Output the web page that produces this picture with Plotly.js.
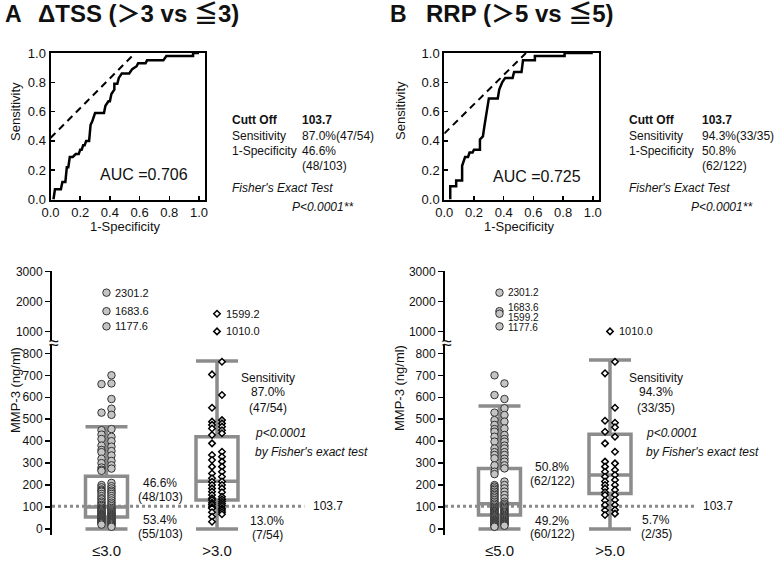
<!DOCTYPE html>
<html>
<head>
<meta charset="utf-8">
<script src="https://cdn.plot.ly/plotly-3.0.1.min.js"></script>
<style>html,body{margin:0;padding:0;background:#fff}</style>
</head>
<body>
<div id="chart" style="width:778px;height:561px"></div>
<script>
// ROC curves (1-specificity, sensitivity)
const rocA_fpr = [0.02, 0.03, 0.07, 0.08, 0.10, 0.11, 0.12, 0.13, 0.15, 0.17, 0.19, 0.20, 0.21, 0.22, 0.23, 0.24, 0.26, 0.27, 0.28, 0.30, 0.36, 0.37, 0.39, 0.40, 0.41, 0.43, 0.43, 0.45, 0.46, 0.48, 0.53, 0.55, 0.58, 0.59, 0.64, 0.65, 0.76, 0.78, 0.96, 0.96, 1.00];
const rocA_tpr = [0.00, 0.07, 0.07, 0.12, 0.12, 0.22, 0.22, 0.29, 0.29, 0.31, 0.31, 0.34, 0.34, 0.37, 0.37, 0.40, 0.40, 0.51, 0.53, 0.59, 0.59, 0.64, 0.67, 0.67, 0.72, 0.75, 0.79, 0.79, 0.83, 0.86, 0.86, 0.89, 0.91, 0.93, 0.93, 0.95, 0.95, 0.98, 0.98, 1.00, 1.00];
const rocA_tanX = [0, 0.57];
const rocA_tanY = [0.42, 1.0];
const aucA = '0.706';

const rocB_fpr = [0.04, 0.04, 0.08, 0.08, 0.12, 0.12, 0.14, 0.16, 0.17, 0.19, 0.20, 0.24, 0.24, 0.26, 0.27, 0.28, 0.29, 0.30, 0.36, 0.37, 0.39, 0.41, 0.46, 0.47, 0.52, 0.53, 0.61, 0.61, 0.81, 0.81, 1.00];
const rocB_tpr = [0.00, 0.09, 0.09, 0.13, 0.13, 0.23, 0.29, 0.29, 0.32, 0.32, 0.34, 0.34, 0.41, 0.43, 0.50, 0.57, 0.62, 0.69, 0.69, 0.75, 0.80, 0.83, 0.83, 0.87, 0.87, 0.95, 0.95, 0.98, 0.98, 1.00, 1.00];
const rocB_tanX = [0, 0.55];
const rocB_tanY = [0.45, 1.0];
const aucB = '0.725';

const cutoff = 103.7;

// box plot groups and summary values (ng/ml)
const groupsA = ['≤3.0', '>3.0'];
const boxA_low = [0, 0];
const boxA_q1 = [55, 132];
const boxA_med = [100, 218];
const boxA_q3 = [240, 420];
const boxA_high = [466, 765];

const groupsB = ['≤5.0', '>5.0'];
const boxB_low = [0, 0];
const boxB_q1 = [64, 162];
const boxB_med = [115, 246];
const boxB_q3 = [276, 431];
const boxB_high = [560, 770];

// individual values, split in the two columns of each dot strip
const A_le_left = [660, 530, 450, 430, 410, 380, 360, 350, 320, 300, 280, 270, 265, 200, 190, 180, 175, 170, 160, 150, 140, 135, 125, 118, 110, 105, 98, 92, 88, 84, 80, 76, 72, 68, 65, 62, 60, 57, 54, 51, 48, 45, 42, 40, 37, 34, 31, 28, 25, 20];
const A_le_right = [700, 663, 592, 548, 520, 455, 420, 400, 375, 355, 335, 310, 290, 275, 210, 195, 185, 175, 168, 160, 150, 140, 130, 120, 112, 104, 96, 90, 85, 80, 76, 72, 68, 64, 60, 57, 54, 51, 48, 45, 42, 39, 36, 33, 30, 27, 24, 20, 15, 10];
const A_gt_left = [704, 552, 489, 474, 458, 428, 390, 337, 314, 284, 253, 231, 215, 200, 185, 170, 155, 140, 132, 120, 112, 100, 94, 76, 56, 33];
const A_gt_right = [762, 610, 496, 481, 466, 450, 436, 352, 329, 307, 284, 261, 238, 216, 200, 185, 167, 147, 135, 124, 115, 106, 95, 87, 77, 67];
const A_le_out = [2301.2, 1683.6, 1177.6];
const A_gt_out = [1599.2, 1010.0];

const B_le_left = [700, 610, 530, 496, 474, 455, 443, 420, 398, 367, 350, 337, 322, 290, 261, 250, 200, 193, 185, 178, 170, 162, 155, 148, 140, 132, 124, 116, 109, 102, 96, 94, 90, 86, 82, 79, 75, 71, 68, 64, 60, 56, 53, 49, 45, 41, 38, 35, 33, 30, 28, 26, 24, 22, 20, 18, 15, 12, 10];
const B_le_right = [663, 592, 550, 519, 489, 458, 428, 410, 398, 380, 367, 350, 337, 320, 307, 290, 276, 216, 200, 185, 170, 155, 140, 124, 115, 108, 102, 96, 90, 85, 79, 75, 70, 64, 60, 56, 52, 49, 45, 41, 37, 33, 30, 27, 24, 21, 18, 15];
const B_gt_left = [709, 493, 443, 390, 307, 284, 261, 238, 216, 200, 185, 167, 155, 130, 109, 85, 64];
const B_gt_right = [762, 552, 484, 463, 420, 352, 299, 269, 246, 223, 200, 178, 155, 132, 109, 87, 70];
const B_le_out = [2301.2, 1683.6, 1599.2, 1177.6];
const B_gt_out = [1010.0];

const FONT = 'Liberation Sans, Arial, Noto Sans CJK JP, sans-serif';
const W = 778, H = 561;
const px = p => p / W;
const py = p => 1 - p / H;

// pixel -> paper text helper
function txt(x, y, text, size, anchor, extra) {
    return Object.assign({
        xref: 'paper', yref: 'paper', x: px(x), y: py(y), text: text,
        showarrow: false, xanchor: anchor || 'left', yanchor: 'middle',
        font: {family: FONT, size: size || 12, color: '#111'}
    }, extra || {});
}

function rocX(left, anchor) {
    return {
        domain: [px(left), px(left + 148.5 * 1.04)], range: [0, 1.04], anchor: anchor,
        showline: true, mirror: true, linewidth: 2, linecolor: '#000',
        ticks: 'inside', ticklen: 4, tickwidth: 1.5, tickcolor: '#000',
        tickvals: [0, 0.2, 0.4, 0.6, 0.8, 1.0], tickformat: '.1f',
        showgrid: false, zeroline: false, fixedrange: true,
        tickfont: {family: FONT, size: 13, color: '#111'}
    };
}
function rocY(anchor) {
    return {
        domain: [py(199.5), py(53)], range: [0, 1.0], anchor: anchor,
        showline: true, mirror: true, linewidth: 2, linecolor: '#000',
        ticks: 'inside', ticklen: 4, tickwidth: 1.5, tickcolor: '#000',
        tickvals: [0, 0.2, 0.4, 0.6, 0.8, 1.0], tickformat: '.1f',
        showgrid: false, zeroline: false, fixedrange: true,
        tickfont: {family: FONT, size: 13, color: '#111'}
    };
}
function boxX(left, anchor, groups) {
    return {
        domain: [px(left), px(left + 308)], range: [-0.493, 2.294], anchor: anchor,
        showline: false, ticks: '', tickvals: [0, 1], ticktext: groups,
        ticklabelstandoff: 5,
        showgrid: false, zeroline: false, fixedrange: true,
        tickfont: {family: FONT, size: 15, color: '#111'}
    };
}
function lowY(anchor) {
    return {
        domain: [py(535), py(345)], range: [-27.3, 838], anchor: anchor,
        showline: true, linewidth: 2, linecolor: '#000',
        ticks: 'outside', ticklen: 5, tickwidth: 1.5, tickcolor: '#000',
        tickvals: [0, 100, 200, 300, 400, 500, 600, 700, 800],
        showgrid: false, zeroline: false, fixedrange: true,
        tickfont: {family: FONT, size: 12, color: '#111'}
    };
}
function highY(anchor) {
    return {
        domain: [py(341), py(271)], range: [690, 3023], anchor: anchor,
        showline: true, linewidth: 2, linecolor: '#000',
        ticks: 'outside', ticklen: 5, tickwidth: 1.5, tickcolor: '#000',
        tickvals: [1000, 2000, 3000],
        showgrid: false, zeroline: false, fixedrange: true,
        tickfont: {family: FONT, size: 12, color: '#111'}
    };
}

const circle = {symbol: 'circle', size: 7.5, color: '#c4c4c4', line: {color: '#333', width: 1}};
const diamond = {symbol: 'diamond', size: 5, color: '#fff', line: {color: '#000', width: 1.5}};

function strip(vals, xpos, marker, xa, ya) {
    return {type: 'scatter', mode: 'markers', x: vals.map(() => xpos), y: vals,
        marker: marker, xaxis: xa, yaxis: ya, hoverinfo: 'skip', cliponaxis: false};
}

function boxTrace(low, q1, med, q3, high, xa, ya) {
    return {type: 'box', x: [0, 1], lowerfence: low, q1: q1, median: med, q3: q3, upperfence: high,
        width: 0.38, whiskerwidth: 1, boxpoints: false,
        line: {color: '#8c8c8c', width: 3.5}, fillcolor: 'rgba(0,0,0,0)',
        xaxis: xa, yaxis: ya, hoverinfo: 'skip'};
}

// labels next to the points above the axis break; close values are spread apart
function outLabels(vals, xpos, xa, ya) {
    const sorted = vals.slice().sort((a, b) => b - a);
    const crowded = sorted.some((v, i) => i > 0 && sorted[i - 1] - v < 200);
    return sorted.map((v, i) => {
        let shift = 0;
        if (i > 0 && sorted[i - 1] - v < 200) shift = -4;
        else if (i < sorted.length - 1 && v - sorted[i + 1] < 200) shift = 4;
        else if (crowded && i > 0) shift = -1;
        return {xref: xa, yref: ya, x: xpos, y: v, text: v.toFixed(1), showarrow: false,
            xanchor: 'left', yanchor: 'middle', xshift: 7, yshift: shift,
            font: {family: FONT, size: crowded ? 10 : 11, color: '#111'}};
    });
}

const traces = [
    {x: rocA_fpr, y: rocA_tpr, mode: 'lines', line: {color: '#000', width: 2.5}, xaxis: 'x', yaxis: 'y'},
    {x: rocA_tanX, y: rocA_tanY, mode: 'lines', line: {color: '#000', width: 2, dash: '7px,5px'}, xaxis: 'x', yaxis: 'y'},
    {x: rocB_fpr, y: rocB_tpr, mode: 'lines', line: {color: '#000', width: 2.5}, xaxis: 'x2', yaxis: 'y2'},
    {x: rocB_tanX, y: rocB_tanY, mode: 'lines', line: {color: '#000', width: 2, dash: '7px,5px'}, xaxis: 'x2', yaxis: 'y2'},

    boxTrace(boxA_low, boxA_q1, boxA_med, boxA_q3, boxA_high, 'x3', 'y3'),
    strip(A_le_left, -0.045, circle, 'x3', 'y3'),
    strip(A_le_right, 0.045, circle, 'x3', 'y3'),
    strip(A_gt_left, 0.955, diamond, 'x3', 'y3'),
    strip(A_gt_right, 1.045, diamond, 'x3', 'y3'),
    strip(A_le_out, 0, circle, 'x3', 'y4'),
    strip(A_gt_out, 1, diamond, 'x3', 'y4'),

    boxTrace(boxB_low, boxB_q1, boxB_med, boxB_q3, boxB_high, 'x4', 'y5'),
    strip(B_le_left, -0.045, circle, 'x4', 'y5'),
    strip(B_le_right, 0.045, circle, 'x4', 'y5'),
    strip(B_gt_left, 0.955, diamond, 'x4', 'y5'),
    strip(B_gt_right, 1.045, diamond, 'x4', 'y5'),
    strip(B_le_out, 0, circle, 'x4', 'y6'),
    strip(B_gt_out, 1, diamond, 'x4', 'y6')
];

const shapes = [
    {type: 'line', xref: 'x3', yref: 'y3', x0: -0.493, x1: 1.79, y0: cutoff, y1: cutoff,
        line: {color: '#8a8a8a', width: 3, dash: 'dot'}, layer: 'below'},
    {type: 'line', xref: 'x4', yref: 'y5', x0: -0.493, x1: 1.76, y0: cutoff, y1: cutoff,
        line: {color: '#8a8a8a', width: 3, dash: 'dot'}, layer: 'below'}
];

const rot = {textangle: -90, xanchor: 'center'};
const annotations = [
    // panel A
    txt(3, 14, '<b>A</b>', 23),
    txt(36, 14, '<b>ΔTSS (＞3 vs ≦3)</b>', 24),
    txt(15, 112, 'Sensitivity', 13, 'center', rot),
    txt(125, 226, '1-Specificity', 13, 'center'),
    txt(144, 174, 'AUC =' + aucA, 16, 'center'),
    txt(230, 120, '<b>Cutt Off</b>'),
    txt(300, 120, '<b>' + cutoff.toFixed(1) + '</b>'),
    txt(230, 136, 'Sensitivity'),
    txt(300, 136, '87.0%(47/54)'),
    txt(230, 151, '1-Specificity'),
    txt(300, 151, '46.6%'),
    txt(300, 166, '(48/103)'),
    txt(230, 188, "<i>Fisher's Exact Test</i>"),
    txt(290, 207, '<i>P&lt;0.0001**</i>'),

    txt(15, 390, 'MMP-3 (ng/ml)', 13, 'center', rot),
    txt(54, 343, '≈', 18, 'center'),
    txt(160, 483, '46.6%', 12, 'center'),
    txt(160, 497, '(48/103)', 12, 'center'),
    txt(160, 520, '53.4%', 12, 'center'),
    txt(160, 534, '(55/103)', 12, 'center'),
    txt(268, 378, 'Sensitivity', 12, 'center'),
    txt(268, 392, '87.0%', 12, 'center'),
    txt(268, 408, '(47/54)', 12, 'center'),
    txt(253, 433, '<i>p&lt;0.0001</i>'),
    txt(253, 452, "<i>by Fisher's exact test</i>"),
    txt(267, 521, '13.0%', 12, 'center'),
    txt(267, 535, '(7/54)', 12, 'center'),
    {xref: 'x3', yref: 'y3', x: 1.79, y: cutoff, text: cutoff.toFixed(1), showarrow: false,
        xanchor: 'left', yanchor: 'middle', xshift: 7, font: {family: FONT, size: 12, color: '#111'}},

    // panel B
    txt(388, 14, '<b>B</b>', 23),
    txt(424, 14, '<b>RRP (＞5 vs ≦5)</b>', 24),
    txt(400, 111, 'Sensitivity', 13, 'center', rot),
    txt(519, 226, '1-Specificity', 13, 'center'),
    txt(537, 176, 'AUC =' + aucB, 16, 'center'),
    txt(627, 120, '<b>Cutt Off</b>'),
    txt(700, 120, '<b>' + cutoff.toFixed(1) + '</b>'),
    txt(627, 136, 'Sensitivity'),
    txt(700, 136, '94.3%(33/35)'),
    txt(627, 151, '1-Specificity'),
    txt(700, 151, '50.8%'),
    txt(700, 166, '(62/122)'),
    txt(627, 188, "<i>Fisher's Exact Test</i>"),
    txt(689, 207, '<i>P&lt;0.0001**</i>'),

    txt(399, 388, 'MMP-3 (ng/ml)', 13, 'center', rot),
    txt(447, 343, '≈', 18, 'center'),
    txt(552, 467, '50.8%', 12, 'center'),
    txt(552, 481, '(62/122)', 12, 'center'),
    txt(552, 521, '49.2%', 12, 'center'),
    txt(552, 534, '(60/122)', 12, 'center'),
    txt(656, 378, 'Sensitivity', 12, 'center'),
    txt(656, 392, '94.3%', 12, 'center'),
    txt(656, 408, '(33/35)', 12, 'center'),
    txt(644, 433, '<i>p&lt;0.0001</i>'),
    txt(644, 452, "<i>by Fisher's exact test</i>"),
    txt(656, 520, '5.7%', 12, 'center'),
    txt(656, 534, '(2/35)', 12, 'center'),
    {xref: 'x4', yref: 'y5', x: 1.76, y: cutoff, text: cutoff.toFixed(1), showarrow: false,
        xanchor: 'left', yanchor: 'middle', xshift: 7, font: {family: FONT, size: 12, color: '#111'}}
].concat(
    outLabels(A_le_out, 0, 'x3', 'y4'),
    outLabels(A_gt_out, 1, 'x3', 'y4'),
    outLabels(B_le_out, 0, 'x4', 'y6'),
    outLabels(B_gt_out, 1, 'x4', 'y6')
);

const layout = {
    width: W, height: H, margin: {l: 0, r: 0, t: 0, b: 0},
    paper_bgcolor: '#fff', plot_bgcolor: 'rgba(0,0,0,0)',
    showlegend: false, hovermode: false,
    font: {family: FONT, size: 12, color: '#111'},
    xaxis: rocX(50.5, 'y'), yaxis: rocY('x'),
    xaxis2: rocX(444.3, 'y2'), yaxis2: rocY('x2'),
    xaxis3: boxX(52, 'y3', groupsA), yaxis3: lowY('x3'), yaxis4: highY('x3'),
    xaxis4: boxX(445, 'y5', groupsB), yaxis5: lowY('x4'), yaxis6: highY('x4'),
    shapes: shapes,
    annotations: annotations
};

Plotly.newPlot('chart', traces, layout, {displayModeBar: false, staticPlot: true});
</script>
</body>
</html>
